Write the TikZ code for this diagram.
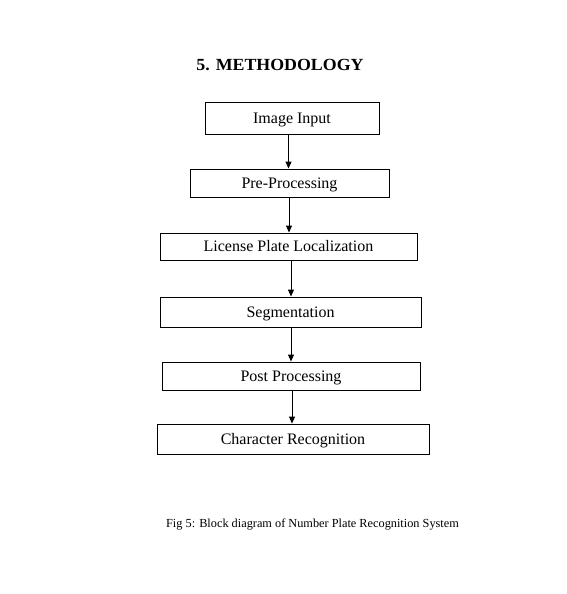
\documentclass[tikz,border=0pt]{standalone}
\usepackage{fontspec}
\setmainfont{Liberation Serif}
\usetikzlibrary{arrows.meta}
\begin{document}
\begin{tikzpicture}[x=1pt,y=-1pt,
  stepbox/.style={draw, line width=0.9pt, inner sep=0pt, text height=11pt, text depth=1pt, font=\fontsize{16}{18}\selectfont},
  flow/.style={line width=0.9pt, -{Triangle[length=7pt,width=6pt]}}]
\useasboundingbox (0,0) rectangle (567,594);
\node[font=\bfseries\fontsize{17}{20}\selectfont, xscale=1.05, anchor=base] (title) at (280,70.7) {5. METHODOLOGY};
\node[stepbox, minimum width=174pt, minimum height=32pt] (b1) at (292,118) {Image Input};
\node[stepbox, minimum width=199pt, minimum height=28pt] (b2) at (289.5,183) {Pre-Processing};
\node[stepbox, minimum width=257pt, minimum height=27pt] (b3) at (288.5,246.5) {License Plate Localization};
\node[stepbox, minimum width=261pt, minimum height=30pt] (b4) at (290.5,312) {Segmentation};
\node[stepbox, minimum width=258pt, minimum height=28pt] (b5) at (291,376) {Post Processing};
\node[stepbox, minimum width=272pt, minimum height=30pt] (b6) at (293,439) {Character Recognition};
\node[font=\fontsize{12.3}{14}\selectfont] (cap) at (312.5,524) {Fig 5: Block diagram of Number Plate Recognition System};
\coordinate (a1) at (288.5,0);
\coordinate (a2) at (289,0);
\coordinate (a3) at (291,0);
\coordinate (a4) at (291,0);
\coordinate (a5) at (292,0);
\draw[flow] (b1.south -| a1) -- (b2.north -| a1);
\draw[flow] (b2.south -| a2) -- (b3.north -| a2);
\draw[flow] (b3.south -| a3) -- (b4.north -| a3);
\draw[flow] (b4.south -| a4) -- (b5.north -| a4);
\draw[flow] (b5.south -| a5) -- (b6.north -| a5);
\end{tikzpicture}
\end{document}
